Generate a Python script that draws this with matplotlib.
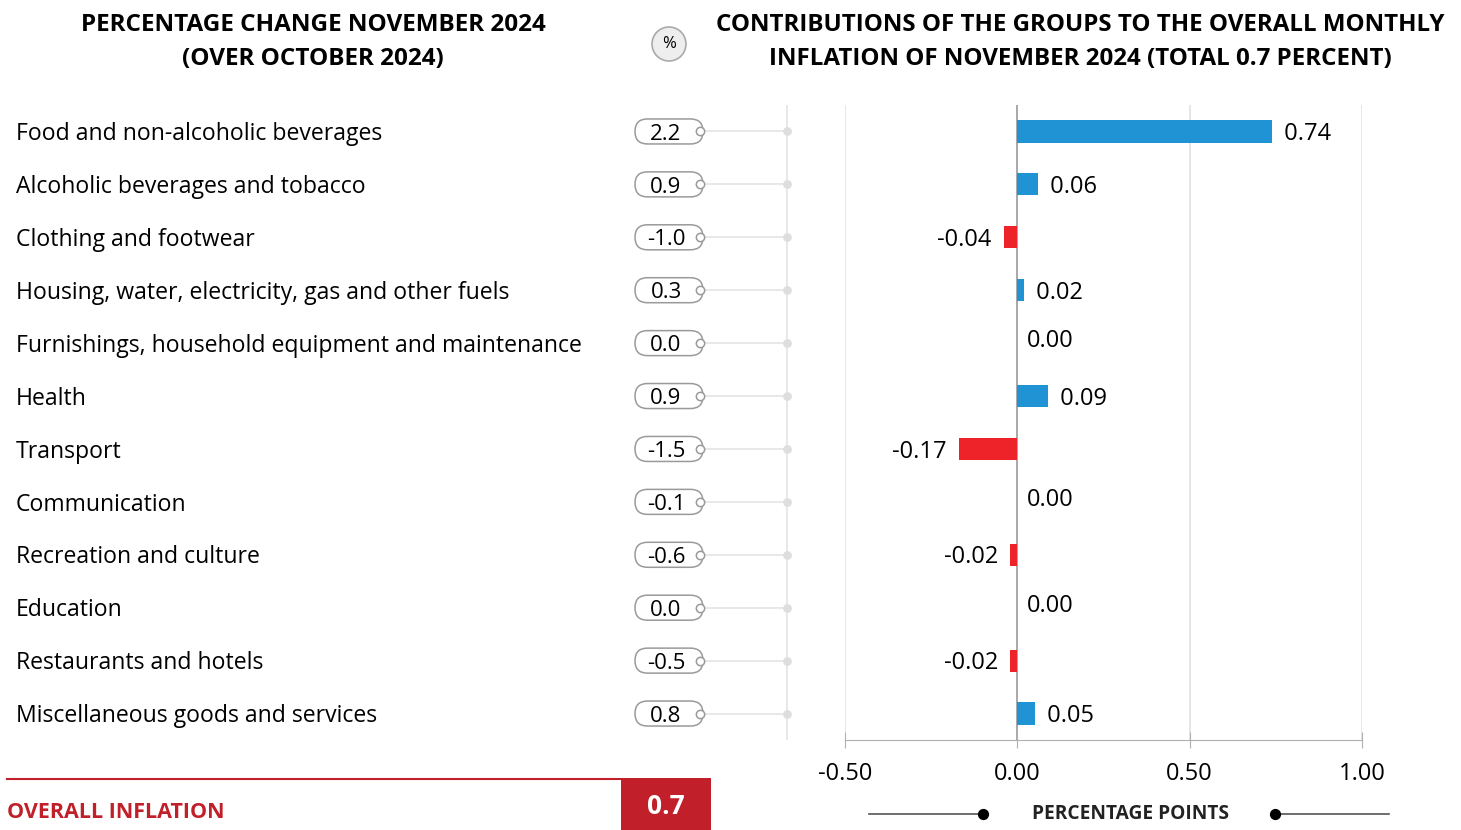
import matplotlib
matplotlib.use("Agg")
import matplotlib.pyplot as plt
import matplotlib.transforms as mtransforms
from matplotlib.patches import FancyBboxPatch, Circle, Rectangle

plt.rcParams['font.family'] = ['Open Sans', 'DejaVu Sans']

categories = [
    "Food and non-alcoholic beverages",
    "Alcoholic beverages and tobacco",
    "Clothing and footwear",
    "Housing, water, electricity, gas and other fuels",
    "Furnishings, household equipment and maintenance",
    "Health",
    "Transport",
    "Communication",
    "Recreation and culture",
    "Education",
    "Restaurants and hotels",
    "Miscellaneous goods and services",
]
pct_change = [2.2, 0.9, -1.0, 0.3, 0.0, 0.9, -1.5, -0.1, -0.6, 0.0, -0.5, 0.8]
contributions = [0.74, 0.06, -0.04, 0.02, 0.00, 0.09, -0.17, 0.00, -0.02, 0.00, -0.02, 0.05]
x_ticks = [-0.50, 0.00, 0.50, 1.00]
overall = 0.7

title_left = "PERCENTAGE CHANGE NOVEMBER 2024\n(OVER OCTOBER 2024)"
title_right = "CONTRIBUTIONS OF THE GROUPS TO THE OVERALL MONTHLY\nINFLATION OF NOVEMBER 2024 (TOTAL 0.7 PERCENT)"

BLUE = "#1f93d3"
RED = "#ee2229"
DARKRED = "#c1202a"

W, H = 1461, 830
fig = plt.figure(figsize=(W / 100, H / 100), dpi=100)

def frac(x0, y0, x1, y1):
    return [x0 / W, 1 - y1 / H, (x1 - x0) / W, (y1 - y0) / H]

TY = 0.05  # small downward text offset (rows)

# bar axes
ax = fig.add_axes(frac(845, 105, 1362, 740))
n = len(categories)
rows = list(range(n))
colors = [BLUE if v >= 0 else RED for v in contributions]
ax.barh(rows, contributions, height=0.42, color=colors, zorder=3)
ax.set_xlim(-0.5, 1.0)
ax.set_ylim(n - 0.5, -0.5)
ax.set_xticks(x_ticks)
ax.set_xticklabels([f"{t:.2f}" for t in x_ticks], fontsize=17)
ax.set_yticks([])
for s in ["top", "right", "left"]:
    ax.spines[s].set_visible(False)
ax.spines["bottom"].set_color("#b0b0b0")
ax.tick_params(axis="x", direction="inout", length=12, color="#b0b0b0", pad=10)
for t in x_ticks:
    ax.axvline(t, color="#9a9a9a" if t == 0 else "#e2e2e2", lw=1.2, zorder=1)
for i, v in enumerate(contributions):
    if v > 0:
        ax.text(v, i + TY, f"  {v:.2f}", ha="left", va="center", fontsize=17, zorder=4)
    elif v < 0:
        ax.text(v, i + TY, f"{v:.2f}  ", ha="right", va="center", fontsize=17, zorder=4)
    else:
        ax.annotate(f"{v:.2f}", (v, i - 0.04), xytext=(7, 0), textcoords="offset points",
                    ha="left", va="center", fontsize=17, zorder=4)

# left panel axes sharing rows
axl = fig.add_axes(frac(0, 105, 800, 740), sharey=ax)
axl.set_xlim(0, 800)
axl.axis("off")
for i, (cat, p) in enumerate(zip(categories, pct_change)):
    axl.text(16, i + TY, cat, ha="left", va="center", fontsize=16.6)
    axl.plot([703, 787], [i, i], color="#e6e6e6", lw=1.3, zorder=1)
    axl.scatter([787], [i], s=28, color="#dedede", zorder=2)
    trans = fig.dpi_scale_trans + mtransforms.ScaledTranslation(669, i, axl.transData)
    w, h = 0.68, 0.25
    pill = FancyBboxPatch((-w / 2, -h / 2), w, h,
                          boxstyle=f"round,pad=0,rounding_size={h/2}",
                          transform=trans, facecolor="white", edgecolor="#9a9a9a", lw=1.1, zorder=3)
    axl.add_patch(pill)
    axl.scatter([700], [i], s=36, facecolor="white", edgecolor="#9a9a9a", lw=1.1, zorder=4)
    axl.text(666, i + TY, f"{p:.1f}", ha="center", va="center", fontsize=16, zorder=5)
axl.plot([787, 787], [-0.5, n - 0.3], color="#e6e6e6", lw=1.3, zorder=0)

# overlay axes in pixel coordinates for decorations
ov = fig.add_axes([0, 0, 1, 1], zorder=-1)
ov.set_xlim(0, W)
ov.set_ylim(H, 0)
ov.axis("off")
ov.text(313, 42, title_left, ha="center", va="center", fontsize=17.5, fontweight="bold", linespacing=1.55)
ov.text(1080, 42, title_right, ha="center", va="center", fontsize=17.4, fontweight="bold", linespacing=1.55)
ov.add_patch(Circle((669, 44), 17, facecolor="#eeeeee", edgecolor="#aaaaaa", lw=1.2))
ov.text(669, 44, "%", ha="center", va="center", fontsize=12)

ov.plot([7, 621], [779, 779], color=DARKRED, lw=1.5)
ov.add_patch(Rectangle((621, 778), 90, 52, facecolor=DARKRED, edgecolor="none"))
ov.text(666, 806, f"{overall:.1f}", ha="center", va="center", fontsize=19, fontweight="bold", color="white")
ov.text(7, 812, "OVERALL INFLATION", ha="left", va="center", fontsize=15.5, fontweight="bold", color=DARKRED)

ov.text(1131, 814, "PERCENTAGE POINTS", ha="center", va="center", fontsize=13.8, fontweight="bold", color="#222222")
ov.plot([869, 983], [814, 814], color="#555555", lw=1.2)
ov.plot([1275, 1389], [814, 814], color="#555555", lw=1.2)
ov.scatter([983, 1275], [814, 814], s=50, color="black", zorder=3)

fig.savefig("out.png", dpi=100)
